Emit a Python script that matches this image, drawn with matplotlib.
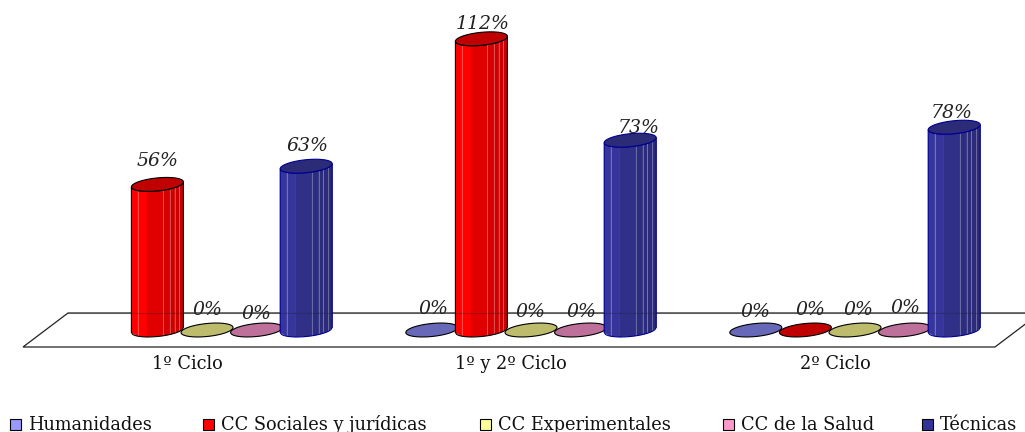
import numpy as np
import matplotlib
matplotlib.use("Agg")
import matplotlib.pyplot as plt
from matplotlib.patches import Polygon, Rectangle

categories = ["1º Ciclo", "1º y 2º Ciclo", "2º Ciclo"]
series_names = ["Humanidades", "CC Sociales y jurídicas", "CC Experimentales", "CC de la Salud", "Técnicas"]
humanidades = [None, 0, 0]
sociales = [56, 112, 0]
experimentales = [0, 0, 0]
salud = [0, 0, 0]
tecnicas = [63, 73, 78]
all_series = [humanidades, sociales, experimentales, salud, tecnicas]

legend_colors = ["#9999FF", "#FF0000", "#FFFF99", "#FF99CC", "#333399"]
body_left = ["#7070C8", "#FF0000", "#C4C470", "#C0709C", "#35359B"]
body_right = ["#5A5AA8", "#C80000", "#A8A860", "#A06088", "#2B2B78"]
top_colors = ["#6868B8", "#C00000", "#BCBC6C", "#BC709A", "#2B2B78"]
edge_colors = ["black", "black", "black", "black", "#000090"]

W, H = 1025, 432
PX_GROUP = 324.0
PX_PCT = 2.6
X0, Y0 = 207.0, 330.0
SPACING = 49.6 / PX_GROUP


def dx(p):
    return p / PX_GROUP


def dy(p):
    return p / PX_PCT


def px(x, y):
    return (x - X0) / PX_GROUP, (Y0 - y) / PX_PCT


plt.rcParams["font.family"] = ["DejaVu Serif"]
fig = plt.figure(figsize=(W / 100, H / 100), dpi=100)
ax = fig.add_axes([0, 0, 1, 1])
ax.set_xlim(px(0, 0)[0], px(W, 0)[0])
ax.set_ylim(px(0, H)[1], px(0, 0)[1])
ax.axis("off")

# floor
floor = [px(23, 347), px(995, 347), px(1040, 313), px(68, 313)]
ax.add_patch(Polygon(floor, closed=True, fc="white", ec="#222222", lw=0.9, zorder=1))

HALF_W = 26.0
LID_H = 6.5
LID_TILT = 2.5
t = np.linspace(0, 2 * np.pi, 60)


def lid(cx, v):
    ex = dx(HALF_W) * np.cos(t)
    ey = dy(LID_H) * np.sin(t) + dy(LID_TILT) * np.cos(t)
    return np.column_stack([cx + ex, v + ey])


def lower_edge(c):
    return -dy(LID_H) * np.sqrt(np.clip(1 - c ** 2, 0, 1)) + dy(LID_TILT) * c


strip_edges = np.array([0, .125, .3, .61, .74, .83, .92, 1.0])
light_lines = [.125, .61, .74, .83, .92]

for g in range(len(categories)):
    for s, series in enumerate(all_series):
        v = series[g]
        if v is None:
            continue
        cx = g + (s - 2) * SPACING
        if v > 0:
            for i in range(len(strip_edges) - 1):
                a, b = strip_edges[i], strip_edges[i + 1]
                f = 0 if b <= .3 else (0.55 + 0.45 * (a - .3) / .62)
                c = np.array(matplotlib.colors.to_rgb(body_left[s])) * (1 - f) + \
                    np.array(matplotlib.colors.to_rgb(body_right[s])) * f
                ca, cb = 2 * a - 1, 2 * b - 1
                xa, xb = cx + dx(HALF_W) * ca, cx + dx(HALF_W) * cb
                ya, yb = lower_edge(ca), lower_edge(cb)
                ax.add_patch(Polygon([(xa, ya), (xb, yb), (xb, v + yb), (xa, v + ya)],
                                     closed=True, fc=c, ec=c, lw=0.3, zorder=3))
            for a in light_lines:
                ca = 2 * a - 1
                xa = cx + dx(HALF_W) * ca
                ax.plot([xa, xa], [lower_edge(ca), v + lower_edge(ca)], color="white",
                        alpha=.3, lw=0.7, zorder=3.5)
            xs = np.linspace(-1, 1, 40)
            low = lower_edge(xs)
            outline = list(zip(cx + dx(HALF_W) * xs, low)) + \
                list(zip(cx + dx(HALF_W) * xs[::-1], v + low[::-1]))
            ax.add_patch(Polygon(outline, closed=True, fc="none", ec=edge_colors[s], lw=0.8, zorder=4))
        ax.add_patch(Polygon(lid(cx, v), closed=True, fc=top_colors[s], ec=edge_colors[s],
                             lw=0.8, zorder=4 if v > 0 else 2))

# faint horizontal floor line seen through the bars
a0, y_back = px(68, 313)
a1, _ = px(1025, 313)
ax.plot([a0, a1], [y_back, y_back], color="#222222", alpha=.3, lw=0.8, zorder=5)

# value labels: pixel nudges from each bar's position
nudges = {
    (0, 1): (0, 23), (0, 2): (0, 20), (0, 3): (0, 16), (0, 4): (1, 20),
    (1, 0): (2, 21), (1, 1): (1, 15), (1, 2): (-1, 18), (1, 3): (1, 18), (1, 4): (8, 12),
    (2, 0): (0, 18), (2, 1): (5, 20), (2, 2): (3, 20), (2, 3): (1, 22), (2, 4): (-3, 14),
}
for g in range(len(categories)):
    for s, series in enumerate(all_series):
        v = series[g]
        if v is None:
            continue
        nx, ny = nudges[(g, s)]
        ax.text(g + (s - 2) * SPACING + dx(nx), v + dy(ny), f"{v}%", ha="center", va="center",
                style="italic", fontsize=13.6, color="#222222", zorder=6)

# category labels
for g, name in enumerate(categories):
    ax.text(g + dx(-20), px(0, 364)[1], name, ha="center", va="center", fontsize=12.8, color="#111111")

# legend
box_px = [10, 203, 480, 723, 922]
for s, name in enumerate(series_names):
    bx, by = px(box_px[s], 430)
    ax.add_patch(Rectangle((bx, by), dx(11), dy(11), fc=legend_colors[s], ec="black", lw=0.8))
    tx, ty = px(box_px[s] + 18, 425)
    ax.text(tx, ty, name, ha="left", va="center", fontsize=12.8, color="#111111")

fig.savefig("out.png", dpi=100)
